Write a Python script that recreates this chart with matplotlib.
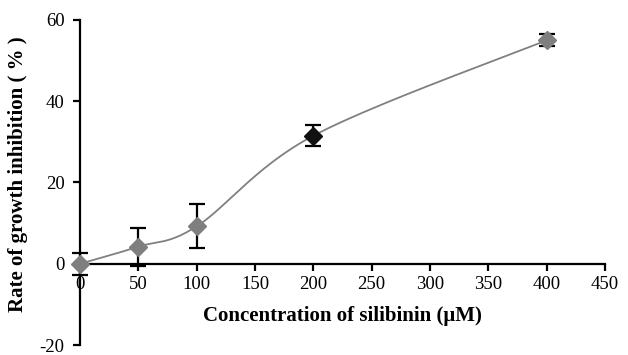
import matplotlib
matplotlib.use("Agg")
import matplotlib.pyplot as plt
import numpy as np

plt.rcParams['font.family'] = ['Liberation Serif', 'DejaVu Serif']

# data
conc = [0, 50, 100, 200, 400]
inhibition = [0.0, 4.2, 9.2, 31.5, 55.0]
err = [2.7, 4.7, 5.4, 2.6, 1.5]
marker_colors = ['#7f7f7f', '#7f7f7f', '#7f7f7f', '#111111', '#7f7f7f']

x_ticks = [0, 50, 100, 150, 200, 250, 300, 350, 400, 450]
y_ticks = [-20, 0, 20, 40, 60]


def smooth_curve(xs, ys, sx, sy, n=40):
    # Excel-like smoothed line: cubic Bezier through the points, control
    # points from neighbours (Catmull-Rom), computed in screen-scaled units
    P = np.column_stack([np.asarray(xs, float) * sx, np.asarray(ys, float) * sy])
    out = []
    for i in range(len(P) - 1):
        p0 = P[i - 1] if i > 0 else P[i]
        p1, p2 = P[i], P[i + 1]
        p3 = P[i + 2] if i + 2 < len(P) else P[i + 1]
        c1 = p1 + (p2 - p0) / 6.0
        c2 = p2 - (p3 - p1) / 6.0
        t = np.linspace(0, 1, n)[:, None]
        seg = ((1 - t) ** 3) * p1 + 3 * ((1 - t) ** 2) * t * c1 \
            + 3 * (1 - t) * t ** 2 * c2 + t ** 3 * p2
        out.append(seg if i == 0 else seg[1:])
    out = np.vstack(out)
    return out[:, 0] / sx, out[:, 1] / sy


fig = plt.figure(figsize=(6.28, 3.55), dpi=100)
ax = fig.add_axes([0.1274, 0.028, 0.836, 0.916])

cx, cy = smooth_curve(conc, inhibition, 525 / 450, 4.07)
ax.plot(cx, cy, color='#808080', lw=1.3, zorder=2)

ax.errorbar(conc, inhibition, yerr=err, fmt='none', ecolor='black',
            elinewidth=1.6, capsize=6, capthick=1.6, zorder=3, clip_on=False)
for x, y, c in zip(conc, inhibition, marker_colors):
    ax.plot(x, y, marker='D', ms=9.5, color=c, mec=c, zorder=4, clip_on=False)

ax.set_xlim(0, 450)
ax.set_ylim(-20, 60)
ax.set_xticks(x_ticks)
ax.set_yticks(y_ticks)
ax.set_yticklabels([str(v) if v >= 0 else '-' + str(-v) for v in y_ticks])

ax.spines['top'].set_visible(False)
ax.spines['right'].set_visible(False)
ax.spines['bottom'].set_position(('data', 0))
ax.spines['left'].set_linewidth(1.6)
ax.spines['bottom'].set_linewidth(1.6)

ax.tick_params(axis='both', direction='out', length=5, width=1.6,
               labelsize=13.5, color='black')
ax.tick_params(axis='x', pad=4)
ax.tick_params(axis='y', pad=6)

ax.set_xlabel('Concentration of silibinin (μM)', fontsize=15,
              fontweight='bold')
ax.xaxis.set_label_coords(0.5, 0.089, transform=ax.transAxes)
ax.xaxis.label.set_va('center')
ax.set_ylabel('Rate of growth inhibition ( % )', fontsize=15,
              fontweight='bold')
ax.yaxis.set_label_coords(-0.118, 0.525)
ax.yaxis.label.set_va('center')

fig.savefig('out.png', dpi=100)
